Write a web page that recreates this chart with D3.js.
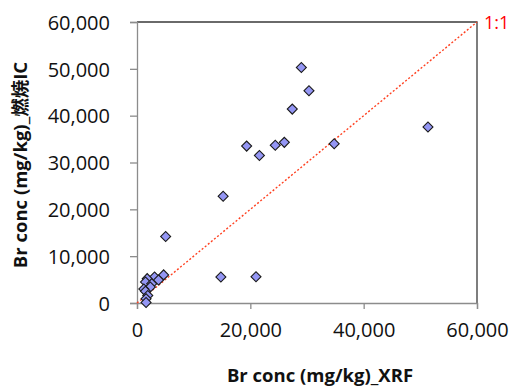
<!DOCTYPE html>
<html lang="ja">
<head>
  <meta charset="UTF-8">
  <title>Br conc XRF vs IC</title>
  <style>
    body { margin: 0; background: #fff; }
    text { font-family: "Open Sans", "Noto Sans CJK JP", sans-serif; fill: #111; }
  </style>
</head>
<body>
<script src="https://d3js.org/d3.v7.min.js"></script>
<div id="d3_chart"></div>
<script>
    // data (mg/kg)
    const xrf = [29000, 30350, 27400, 51350, 19350, 21600, 24400, 26000, 34800, 15200,
                 5060, 14800, 21000, 4700, 3100, 1800, 1500, 2600, 2350, 1200,
                 1500, 1900, 1600, 1600, 3800];
    const ic  = [50300, 45300, 41400, 37600, 33500, 31500, 33700, 34300, 34000, 22800,
                 14200, 5550, 5600, 6000, 5550, 5200, 4500, 4100, 3400, 3000,
                 2500, 1600, 900, 100, 4900];
    const xTicks = [0, 20000, 40000, 60000];
    const yTicks = [0, 10000, 20000, 30000, 40000, 50000, 60000];
    const xTitle = "Br conc (mg/kg)_XRF";
    const yTitle = "Br conc (mg/kg)_燃焼IC";
    const refLabel = "1:1";

    const W = 513, H = 387;
    const plot = {left: 137, right: 477, top: 22, bottom: 303};

    const svg = d3.select("#d3_chart")
      .append("svg")
        .attr("width", W)
        .attr("height", H);

    const x = d3.scaleLinear().domain([0, 60000]).range([plot.left, plot.right]);
    const y = d3.scaleLinear().domain([0, 60000]).range([plot.bottom, plot.top]);
    const fmt = d3.format(",");

    // frame (top / right)
    svg.append("path")
      .attr("d", `M${plot.left},${plot.top}H${plot.right}V${plot.bottom}`)
      .attr("fill", "none")
      .attr("stroke", "#3a3a3a")
      .attr("stroke-width", 1.3);

    // axes
    const xAxis = svg.append("g")
      .attr("transform", `translate(0,${plot.bottom})`)
      .call(d3.axisBottom(x).tickValues(xTicks).tickFormat(fmt).tickSize(6).tickPadding(14));
    const yAxis = svg.append("g")
      .attr("transform", `translate(${plot.left},0)`)
      .call(d3.axisLeft(y).tickValues(yTicks).tickFormat(fmt).tickSize(7).tickPadding(20));

    [xAxis, yAxis].forEach(g => {
      g.select(".domain").attr("stroke", "#8c8c8c").attr("stroke-width", 1.3);
      g.selectAll(".tick line").attr("stroke", "#8c8c8c").attr("stroke-width", 1.3);
      g.selectAll(".tick text")
        .attr("fill", "#111")
        .style("font-family", "'Open Sans', sans-serif")
        .style("font-size", "20px");
    });
    yAxis.selectAll(".tick text").attr("dy", "0.36em");

    // 1:1 line
    svg.append("line")
      .attr("x1", x(0)).attr("y1", y(0))
      .attr("x2", x(60000)).attr("y2", y(60000))
      .attr("stroke", "#ff4020")
      .attr("stroke-width", 1.4)
      .attr("stroke-dasharray", "2,2");

    svg.append("text")
      .attr("x", plot.right + 7)
      .attr("y", plot.top + 7)
      .style("fill", "#ff0000")
      .style("font-size", "18px")
      .text(refLabel);

    // points
    const pts = xrf.map((v, i) => ({x: v, y: ic[i]}));
    svg.append("g")
      .selectAll("path")
      .data(pts)
      .join("path")
        .attr("d", d3.symbol(d3.symbolSquare, 50))
        .attr("transform", d => `translate(${x(d.x)},${y(d.y)}) rotate(45)`)
        .attr("fill", "#9496f4")
        .attr("stroke", "#1a1a1a")
        .attr("stroke-width", 1.1);

    // titles
    svg.append("text")
      .attr("x", 320)
      .attr("y", 382)
      .attr("text-anchor", "middle")
      .style("font-size", "18.5px")
      .style("font-weight", "bold")
      .text(xTitle);

    svg.append("text")
      .attr("transform", "translate(27,165) rotate(-90)")
      .attr("text-anchor", "middle")
      .style("font-size", "18.5px")
      .style("font-weight", "bold")
      .text(yTitle);
</script>
</body>
</html>
